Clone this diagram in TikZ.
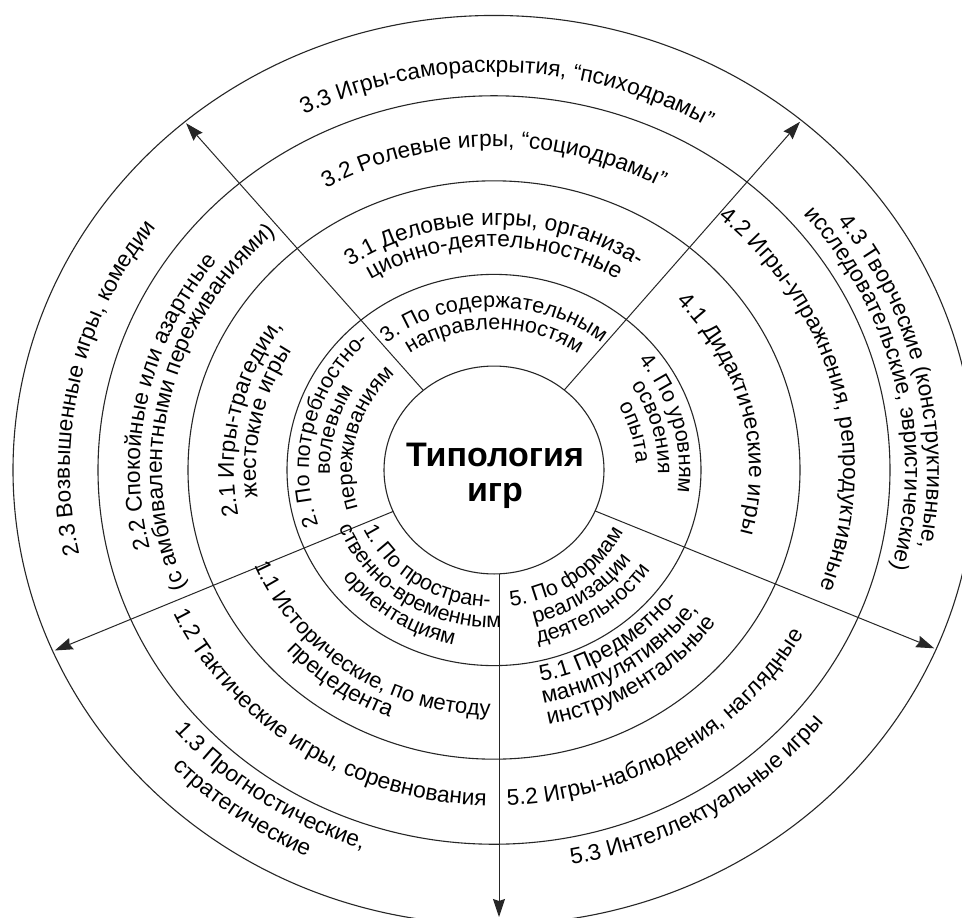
\documentclass[tikz,border=0pt]{standalone}
\usepackage{fontspec}
\setmainfont{Liberation Sans}
\usetikzlibrary{decorations.text,arrows.meta,calc}
\newcommand\lblfont{\fontsize{22.7}{23}\selectfont}
\newcommand\lblfontS{\fontsize{21.5}{23}\selectfont}
\def\cx{494}
\def\cy{-470}
\def\sq{0.945}
% outward text (clockwise arc, glyph tops point away from centre)
\newcommand\outtext[4][\lblfont]{%
  \path[decorate,decoration={text along path,text align=center,text={|#1|#4}}]
    ({\cx+#3*cos(#2+80)},{\cy+\sq*#3*sin(#2+80)})
    arc[start angle={#2+80}, end angle={#2-80}, x radius={#3}, y radius={\sq*#3}];}
% inward text (counter-clockwise arc, glyph tops point to centre)
\newcommand\intext[4][\lblfont]{%
  \path[decorate,decoration={text along path,text align=center,text={|#1|#4}}]
    ({\cx+#3*cos(#2-80)},{\cy+\sq*#3*sin(#2-80)})
    arc[start angle={#2-80}, end angle={#2+80}, x radius={#3}, y radius={\sq*#3}];}
\begin{document}
\begin{tikzpicture}[x=1pt,y=1pt,
  ring/.style={line width=1.1pt,draw=black!85},
  ray/.style={line width=1pt,draw=black!85,-{Stealth[length=18pt,width=12pt,inset=2pt]}}]
\useasboundingbox (0,0) rectangle (962,-918);
\fill[white] (0,0) rectangle (962,-918);
\clip (0,0) rectangle (962,-918);
\coordinate (O) at (\cx,\cy);
% rings
\foreach \r in {110,207,306,396,481}{
  \draw[ring] (O) ellipse [x radius=\r, y radius=\sq*\r];
}
% title
\node[inner sep=0pt,align=center,font=\bfseries\fontsize{34}{35}\selectfont] (T) at (495,-476) {Типология\\игр};
% radial connectors
\foreach \n/\a in {1/203.5,2/130,3/50.3,4/336.8}{
  \coordinate (s\n) at ({\cx+110*cos(\a)},{\cy+\sq*110*sin(\a)});
  \coordinate (e\n) at ({\cx+479*cos(\a)},{\cy+\sq*479*sin(\a)});
}
\coordinate (s5) at (499,{\cy-\sq*110});
\coordinate (e5) at (499,-917);
\foreach \n in {1,...,5}{\draw[ray] (s\n) -- (e\n);}
% sector 3 (top)
\outtext[\lblfontS]{90}{172}{3. По содержательным}
\outtext[\lblfontS]{90}{149}{направленностям}
\outtext{90}{259}{3.1 Деловые игры, организа-}
\outtext{90}{236}{ционно-деятельностные}
\outtext{90}{342}{3.2 Ролевые игры, “социодрамы”}
\outtext{88}{421}{3.3 Игры-самораскрытия, “психодрамы”}
% sector 4 (right)
\outtext[\lblfontS]{15}{185}{4. По уровням}
\outtext[\lblfontS]{15}{164}{освоения}
\outtext[\lblfontS]{15}{142}{опыта}
\outtext{14}{255}{4.1 Дидактические игры}
\outtext{14}{349}{4.2 Игры-упражнения, репродуктивные}
\outtext{12.7}{433}{4.3 Творческие (конструктивные,}
\outtext{12.7}{411}{исследовательские, эвристические)}
% sector 2 (left)
\outtext[\lblfontS]{166}{185}{2. По потребностно-}
\outtext[\lblfontS]{166}{164}{волевым}
\outtext[\lblfontS]{166}{142}{переживаниям}
\outtext{168}{260}{2.1 Игры-трагедии,}
\outtext{168}{238}{жестокие игры}
\outtext{168}{354}{2.2 Спокойные или азартные}
\outtext{167}{332}{(с амбивалентными переживаниями)}
\outtext{168}{424}{2.3 Возвышенные игры, комедии}
% sector 1 (bottom left)
\intext[\lblfontS]{236}{145}{1. По простран-}
\intext[\lblfontS]{236}{167}{ственно-временным}
\intext[\lblfontS]{236}{189}{ориентациям}
\intext[\fontsize{22}{23}\selectfont]{235}{260}{1.1 Исторические, по методу}
\intext{234}{282}{прецедента}
\intext{236}{355}{1.2 Тактические игры, соревнования}
\intext{235}{422}{1.3 Прогностические,}
\intext{233.5}{450}{стратегические}
% sector 5 (bottom right)
\intext[\lblfontS]{306}{145}{5. По формам}
\intext[\lblfontS]{306}{167}{реализации}
\intext[\lblfontS]{306}{189}{деятельности}
\intext{304}{229}{5.1 Предметно-}
\intext{304}{252}{манипулятивные,}
\intext{304}{275}{инструментальные}
\intext{302.5}{355}{5.2 Игры-наблюдения, наглядные}
\intext{302}{425}{5.3 Интеллектуальные игры}
\end{tikzpicture}
\end{document}
